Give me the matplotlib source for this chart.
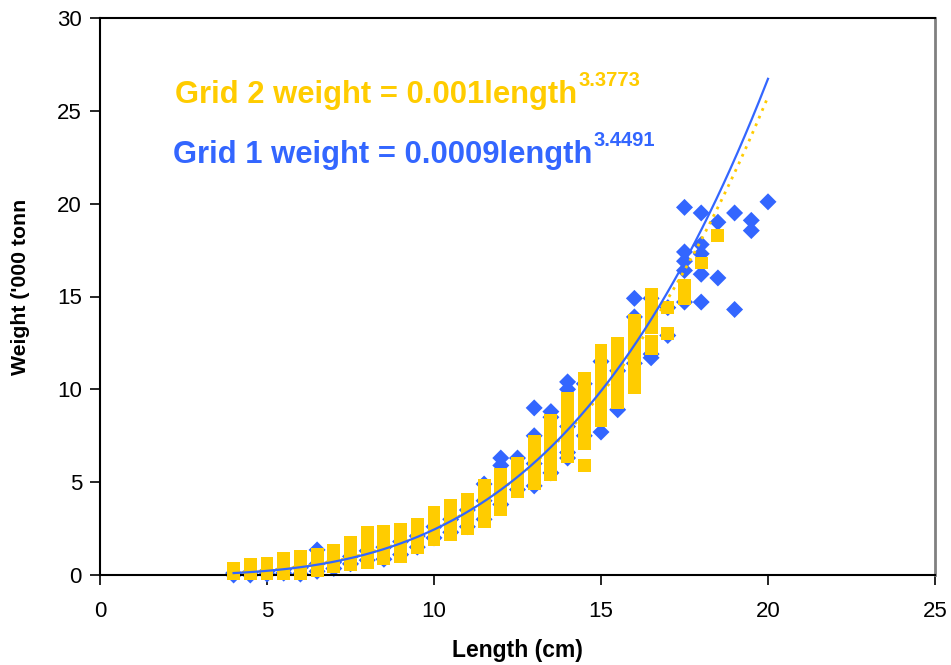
import matplotlib
matplotlib.use("Agg")
import matplotlib.pyplot as plt
import numpy as np

# ---------------- data ----------------
# Grid 2 (yellow squares): length (cm) -> weights
grid2_lengths = [4.0, 4.5, 5.0, 5.5, 6.0, 6.5, 7.0, 7.5, 8.0, 8.5, 9.0, 9.5, 10.0, 10.5,
                 11.0, 11.5, 12.0, 12.5, 13.0, 13.5, 14.0, 14.5, 15.0, 15.5, 16.0, 16.5,
                 17.0, 17.5, 18.0, 18.5]
grid2_weights = [
    [0.05, 0.2, 0.35],
    [0.05, 0.2, 0.4, 0.55],
    [0.1, 0.25, 0.45, 0.65],
    [0.1, 0.3, 0.5, 0.75, 0.9],
    [0.1, 0.35, 0.6, 0.85, 1.0],
    [0.25, 0.5, 0.75, 1.0, 1.1],
    [0.45, 0.7, 0.95, 1.2, 1.3],
    [0.55, 0.8, 1.05, 1.3, 1.55, 1.75],
    [0.65, 0.9, 1.2, 1.5, 1.8, 2.1, 2.3],
    [0.9, 1.2, 1.5, 1.8, 2.1, 2.35],
    [1.0, 1.3, 1.6, 1.9, 2.2, 2.45],
    [1.5, 1.8, 2.1, 2.4, 2.7],
    [1.9, 2.2, 2.5, 2.8, 3.1, 3.35],
    [2.2, 2.5, 2.8, 3.1, 3.4, 3.75],
    [2.5, 2.8, 3.1, 3.4, 3.7, 4.05],
    [2.9, 3.2, 3.5, 3.8, 4.1, 4.4, 4.8],
    [3.5, 3.8, 4.1, 4.4, 4.7, 5.0, 5.4],
    [4.5, 4.8, 5.1, 5.4, 5.8, 6.0],
    [4.9, 5.2, 5.5, 5.9, 6.2, 6.6, 7.0, 7.2],
    [5.4, 5.7, 6.0, 6.4, 6.8, 7.2, 7.6, 8.0, 8.3],
    [6.4, 6.8, 7.2, 7.6, 8.0, 8.4, 8.8, 9.2, 9.5],
    [5.9, 7.1, 7.5, 7.9, 8.3, 8.7, 9.1, 9.5, 9.9, 10.3, 10.6],
    [8.3, 8.7, 9.1, 9.5, 9.9, 10.3, 10.7, 11.1, 11.5, 11.9, 12.1],
    [9.3, 9.7, 10.1, 10.5, 10.9, 11.3, 11.7, 12.1, 12.5],
    [10.1, 10.5, 10.9, 11.3, 11.7, 12.1, 12.5, 12.9, 13.3, 13.7],
    [12.2, 12.6, 13.3, 13.7, 14.1, 14.5, 14.9, 15.1],
    [13.0, 14.4],
    [14.9, 15.3, 15.6],
    [16.8],
    [18.3],
]

# Grid 1 (blue diamonds): length (cm) -> weights
grid1_lengths = [4.0, 4.5, 5.0, 5.5, 6.0, 6.5, 7.0, 7.5, 8.0, 8.5, 9.0, 9.5, 10.0, 10.5,
                 11.0, 11.5, 12.0, 12.5, 13.0, 13.5, 14.0, 14.5, 15.0, 15.5, 16.0, 16.5,
                 17.0, 17.5, 18.0, 18.5, 19.0, 19.5, 20.0]
grid1_weights = [
    [0.0, 0.1],
    [0.0, 0.15],
    [0.05, 0.2],
    [0.1, 0.3],
    [0.05, 0.4],
    [0.2, 0.6, 1.35],
    [0.35, 0.7],
    [0.6, 1.0],
    [0.8, 1.3],
    [0.85, 1.5],
    [1.1, 1.8],
    [1.5, 2.1],
    [2.0, 2.6],
    [2.3, 3.0],
    [2.6, 3.5],
    [3.0, 4.0, 4.9],
    [3.8, 5.9, 6.3],
    [4.6, 6.3],
    [4.8, 6.0, 7.5, 9.0],
    [5.5, 8.5, 8.8],
    [6.3, 6.6, 8.0, 10.0, 10.4],
    [7.5, 10.3],
    [7.7, 11.5],
    [8.9, 11.0],
    [11.4, 13.9, 14.9],
    [11.7, 11.9, 14.9],
    [12.9, 14.4],
    [14.7, 16.4, 16.9, 17.4, 19.8],
    [14.7, 16.2, 17.3, 17.8, 19.5],
    [16.0, 19.0],
    [14.3, 19.5],
    [18.55, 19.1],
    [20.1],
]

# fitted power trendlines (a * L^b), range of lengths
grid1_fit = (0.00087, 3.4491)
grid2_fit = (0.00104, 3.3773)
fit_range = (4.0, 20.0)

x_ticks = [0, 5, 10, 15, 20, 25]
y_ticks = [0, 5, 10, 15, 20, 25, 30]

BLUE = "#3366FF"
YELLOW = "#FFCC00"

# ---------------- figure ----------------
plt.rcParams['font.family'] = ['Liberation Sans', 'DejaVu Sans']
fig = plt.figure(figsize=(9.51, 6.65), dpi=100)
ax = fig.add_axes([100 / 951, (665 - 575) / 665, (935 - 100) / 951, (575 - 18) / 665])

g1x = [L for L, ws in zip(grid1_lengths, grid1_weights) for _ in ws]
g1y = [w for ws in grid1_weights for w in ws]
g2x = [L for L, ws in zip(grid2_lengths, grid2_weights) for _ in ws]
g2y = [w for ws in grid2_weights for w in ws]

ax.scatter(g1x, g1y, marker='D', s=75, color=BLUE, edgecolors='none', zorder=2, clip_on=False)
ax.scatter(g2x, g2y, marker='s', s=85, color=YELLOW, edgecolors='none', zorder=3, clip_on=False)

xx = np.linspace(fit_range[0], fit_range[1], 300)
ax.plot(xx, grid2_fit[0] * xx ** grid2_fit[1], color=YELLOW, lw=2.0, ls=(0, (1, 2)), zorder=4)
ax.plot(xx, grid1_fit[0] * xx ** grid1_fit[1], color=BLUE, lw=1.6, zorder=5)

ax.set_xlim(0, 25)
ax.set_ylim(0, 30)
ax.set_xticks(x_ticks)
ax.set_yticks(y_ticks)
ax.tick_params(direction='out', length=7, width=1.2, labelsize=16, pad=6, colors='black')
ax.tick_params(axis='x', pad=12)
for s in ['left', 'bottom', 'top']:
    ax.spines[s].set_color('black')
    ax.spines[s].set_linewidth(1.5)
ax.spines['right'].set_color('#808080')
ax.spines['right'].set_linewidth(2)

ax.set_xlabel("Length (cm)", fontsize=16.5, fontweight='bold', labelpad=12)
ax.set_ylabel("Weight ('000 tonn", fontsize=15.3, fontweight='bold')
ax.yaxis.set_label_coords(-0.084, 0.517)

# equations
t2 = fig.text(175 / 951, 1 - 103 / 665, "Grid 2 weight = 0.001length", color=YELLOW,
              fontsize=22.3, fontweight='bold', va='baseline', ha='left')
t1 = fig.text(173 / 951, 1 - 163 / 665, "Grid 1 weight = 0.0009length", color=BLUE,
              fontsize=22.3, fontweight='bold', va='baseline', ha='left')
fig.canvas.draw()
r = fig.canvas.get_renderer()
for t, sup, col, ybase in [(t2, "3.3773", YELLOW, 103), (t1, "3.4491", BLUE, 163)]:
    bb = t.get_window_extent(renderer=r)
    fig.text((bb.x1 + 1) / 951, 1 - (ybase - 17) / 665, sup, color=col,
             fontsize=14.5, fontweight='bold', va='baseline', ha='left')

fig.savefig("out.png", dpi=100)
